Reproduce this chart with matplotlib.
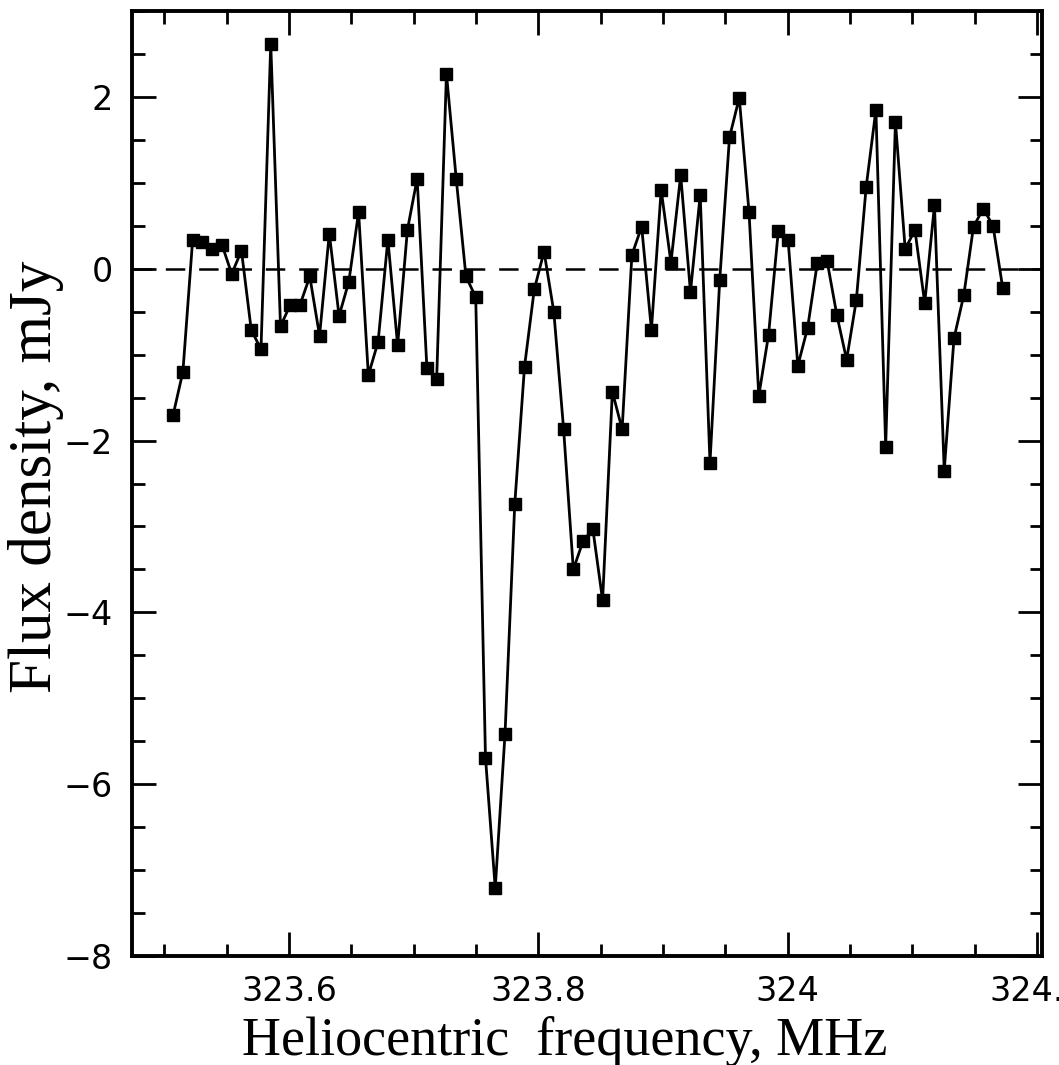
import matplotlib
matplotlib.use('Agg')
import matplotlib.pyplot as plt
import numpy as np
from matplotlib.ticker import MultipleLocator, FixedLocator

# channel grid of the spectrum (MHz)
freq_start = 323.507
chan_width = 0.00783

# flux density per channel (mJy)
flux = [
    -1.70, -1.20, 0.34, 0.31, 0.23, 0.28, -0.06, 0.21, -0.71, -0.94,
    2.62, -0.67, -0.42, -0.42, -0.09, -0.78, 0.41, -0.55, -0.15, 0.66,
    -1.24, -0.85, 0.34, -0.89, 0.45, 1.05, -1.16, -1.28, 2.27, 1.05,
    -0.09, -0.33, -5.69, -7.21, -5.42, -2.74, -1.14, -0.24, 0.20, -0.50,
    -1.86, -3.50, -3.17, -3.03, -3.86, -1.43, -1.87, 0.16, 0.49, -0.71,
    0.92, 0.07, 1.09, -0.27, 0.86, -2.26, -0.13, 1.53, 1.99, 0.66,
    -1.48, -0.77, 0.44, 0.34, -1.13, -0.69, 0.07, 0.09, -0.54, -1.06,
    -0.36, 0.95, 1.85, -2.07, 1.71, 0.23, 0.45, -0.40, 0.74, -2.35,
    -0.81, -0.31, 0.49, 0.70, 0.50, -0.23,
]

xtick_vals = [323.6, 323.8, 324.0, 324.2]
xtick_labels = ['323.6', '323.8', '324', '324.2']
ytick_vals = [-8, -6, -4, -2, 0, 2]

freq = freq_start + chan_width * np.arange(len(flux))

plt.rcParams['lines.scale_dashes'] = False

fig = plt.figure(figsize=(10.59, 10.65), dpi=100)
ax = fig.add_axes([132 / 1059, 1 - 956 / 1065, 910 / 1059, 945 / 1065])

ax.axhline(0, color='black', lw=1.8, linestyle=(0, (14, 10)), zorder=1)
ax.plot(freq, flux, color='black', lw=2.0, marker='s', ms=9,
        markerfacecolor='black', markeredgecolor='black', zorder=2)

ax.set_xlim(323.474, 324.204)
ax.set_ylim(-8, 3)

ax.xaxis.set_major_locator(FixedLocator(xtick_vals))
ax.set_xticklabels(xtick_labels)
ax.xaxis.set_minor_locator(MultipleLocator(0.05))
ax.yaxis.set_major_locator(FixedLocator(ytick_vals))
ax.yaxis.set_minor_locator(MultipleLocator(0.5))

ax.tick_params(which='both', direction='in', top=True, right=True,
               width=2.0, color='black')
ax.tick_params(which='major', length=17, labelsize=24)
ax.tick_params(which='minor', length=9)
ax.tick_params(axis='x', which='major', pad=14)
ax.tick_params(axis='y', which='major', pad=14)

for spine in ax.spines.values():
    spine.set_linewidth(2.8)

ax.set_xlabel('Heliocentric  frequency, MHz', family='Liberation Serif',
              fontsize=39, va='baseline')
ax.xaxis.set_label_coords(0.475, -99 / 945)
ax.set_ylabel('Flux density, mJy', family='Liberation Serif',
              fontsize=44, va='baseline')
ax.yaxis.set_label_coords(-0.089, 0.507)

fig.savefig('out.png', dpi=100)
